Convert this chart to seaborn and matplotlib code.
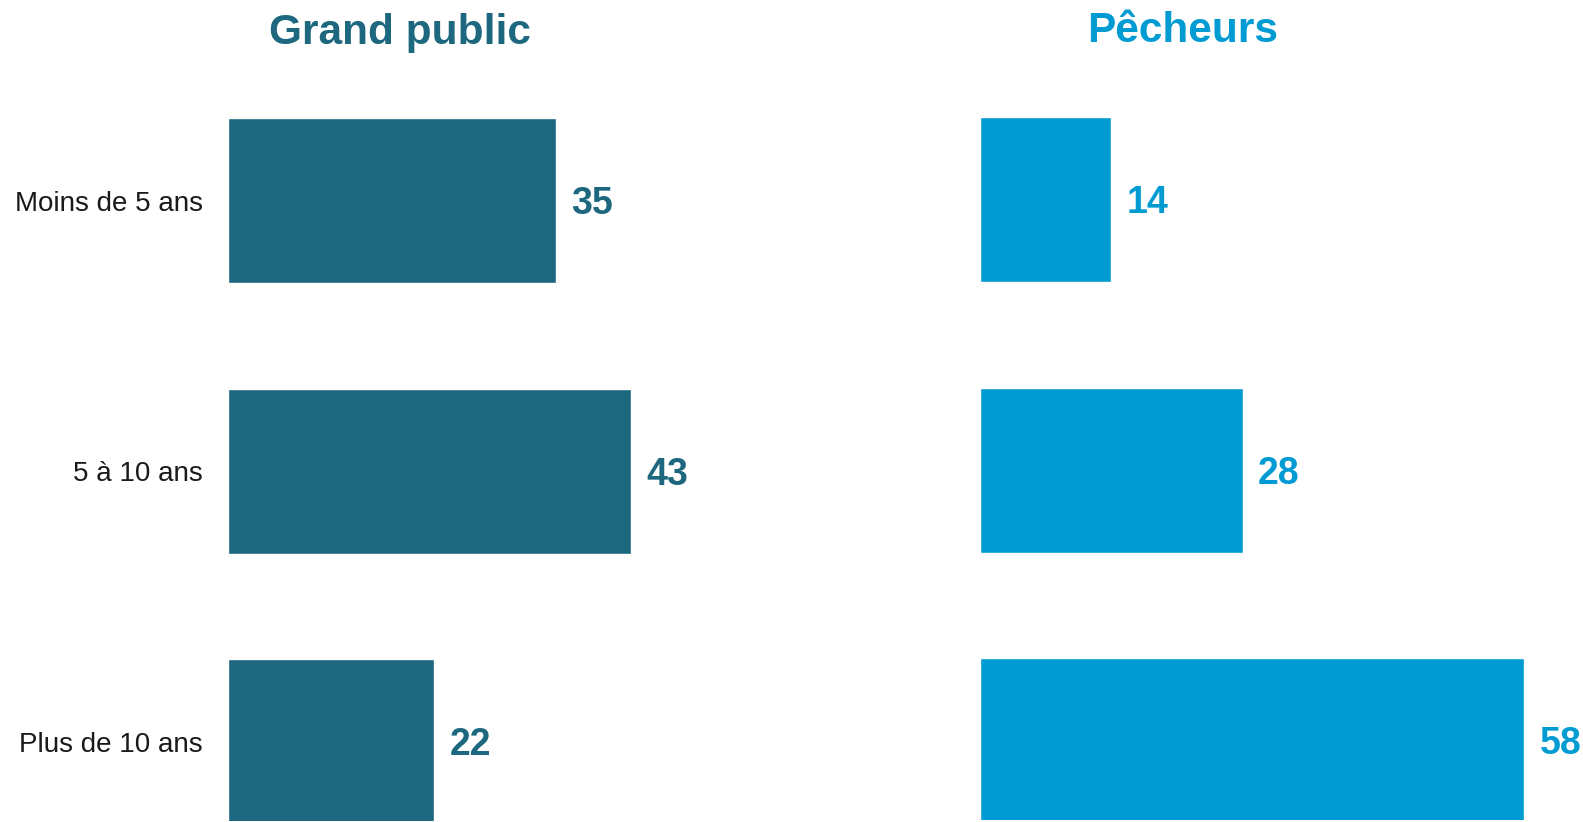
import matplotlib
matplotlib.use("Agg")
import matplotlib.pyplot as plt
import pandas as pd
import seaborn as sns

sns.set_style("white")
plt.rcParams["font.family"] = ["Liberation Sans", "DejaVu Sans"]

categories = ["Moins de 5 ans", "5 à 10 ans", "Plus de 10 ans"]
grand_public = [35, 43, 22]
pecheurs = [14, 28, 58]

titles = ["Grand public", "Pêcheurs"]
colors = ["#1D687E", "#009BD2"]

W, H = 1583, 822
fig = plt.figure(figsize=(W / 100, H / 100), dpi=100)

# axes placed in pixel coords, same scale for both panels (~9.38 px per unit)
xmax = 64
ax_w = xmax * 9.38
panels = [(228, grand_public, 1.5), (980, pecheurs, 2.5)]

for i, (x0, vals, dy) in enumerate(panels):
    ax = fig.add_axes([x0 / W, dy / H, ax_w / W, 1.0])
    df = pd.DataFrame({"cat": categories, "val": vals})
    sns.barplot(data=df, x="val", y="cat", color=colors[i], width=0.61,
                saturation=1, ax=ax)
    ax.set_xlim(0, xmax)
    ax.set_ylim(2.292, -0.747)
    for c in ax.containers:
        labels = ax.bar_label(c, padding=11, fontsize=27, fontweight="bold",
                              color=colors[i])
        # nudge the values down a little, like the original
        for t in labels:
            t.xyann = (11, -2.5)
    ax.set_xlabel("")
    ax.set_ylabel("")
    ax.set_xticks([])
    if i == 0:
        ax.tick_params(axis="y", length=0, pad=18, labelsize=20,
                       labelcolor="#1a1a1a")
    else:
        ax.set_yticks([])
    sns.despine(ax=ax, left=True, bottom=True)
    ax.patch.set_alpha(0)

fig.text(400 / W, 1 - 33 / H, titles[0], ha="center", va="center",
         fontsize=30.5, fontweight="bold", color=colors[0])
fig.text(1183 / W, 1 - 31 / H, titles[1], ha="center", va="center",
         fontsize=30.5, fontweight="bold", color=colors[1])

fig.savefig("out.png", dpi=100)
